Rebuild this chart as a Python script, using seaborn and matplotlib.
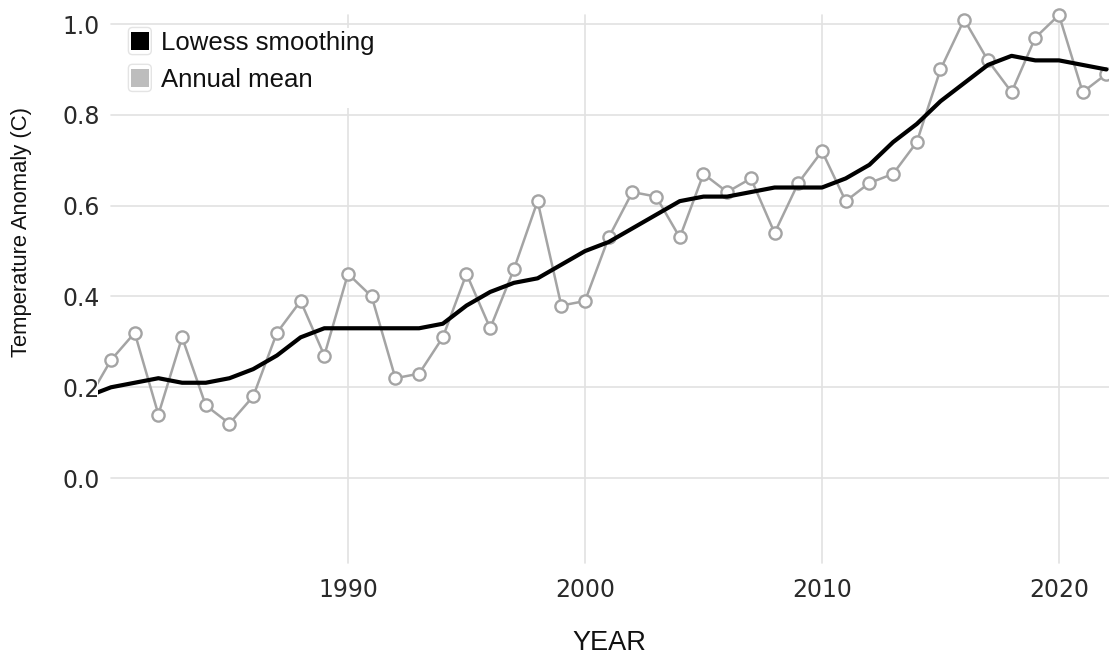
import matplotlib
matplotlib.use("Agg")
import matplotlib.pyplot as plt
import seaborn as sns
import pandas as pd
from matplotlib.patches import Rectangle, FancyBboxPatch
from matplotlib.legend_handler import HandlerBase
from matplotlib.transforms import Bbox, TransformedBbox

# ---- data ----
years = list(range(1979, 2023))
annual_mean = [0.17, 0.26, 0.32, 0.14, 0.31, 0.16, 0.12, 0.18, 0.32, 0.39, 0.27,
               0.45, 0.40, 0.22, 0.23, 0.31, 0.45, 0.33, 0.46, 0.61, 0.38,
               0.39, 0.53, 0.63, 0.62, 0.53, 0.67, 0.63, 0.66, 0.54, 0.65,
               0.72, 0.61, 0.65, 0.67, 0.74, 0.90, 1.01, 0.92, 0.85, 0.97,
               1.02, 0.85, 0.89]
lowess = [0.18, 0.20, 0.21, 0.22, 0.21, 0.21, 0.22, 0.24, 0.27, 0.31, 0.33,
          0.33, 0.33, 0.33, 0.33, 0.34, 0.38, 0.41, 0.43, 0.44, 0.47,
          0.50, 0.52, 0.55, 0.58, 0.61, 0.62, 0.62, 0.63, 0.64, 0.64,
          0.64, 0.66, 0.69, 0.74, 0.78, 0.83, 0.87, 0.91, 0.93, 0.92,
          0.92, 0.91, 0.90]
series_labels = ["Lowess smoothing", "Annual mean"]
x_ticks = [1990, 2000, 2010, 2020]
y_ticks = [0.0, 0.2, 0.4, 0.6, 0.8, 1.0]

df = pd.DataFrame({"YEAR": years, "annual": annual_mean, "lowess": lowess})

sns.set_style("white")
plt.rcParams["font.family"] = ["DejaVu Sans"]

W, H = 1109, 656
fig = plt.figure(figsize=(W / 100, H / 100), dpi=100)
ax = fig.add_axes([111 / W, 1 - 563 / H, (W - 111) / W, 563 / H])

GREY = "#a4a4a4"
GRID = "#e2e2e2"

xmin, xmax = 1980.0, 2022.11
ymin, ymax = -0.187, 1.053

# grid
for yt in y_ticks:
    ax.plot([xmin, xmax], [yt, yt], color=GRID, lw=1.2, zorder=0, clip_on=False)
for xt in x_ticks:
    ax.plot([xt, xt], [ymin, 1.02], color=GRID, lw=1.2, zorder=0, clip_on=False)

# white legend background covering the grid behind it
ax.add_patch(Rectangle((127 / W, 1 - 108 / H), (382 - 127) / W, (108 - 28) / H,
                       transform=fig.transFigure, facecolor="white",
                       edgecolor="none", zorder=1, clip_on=False))

sns.lineplot(data=df, x="YEAR", y="annual", ax=ax, color=GREY, lw=1.8,
             marker="o", markersize=8.8, markerfacecolor="white",
             markeredgecolor=GREY, markeredgewidth=1.7, zorder=2)
sns.lineplot(data=df, x="YEAR", y="lowess", ax=ax, color="black", lw=3.0, zorder=3)

ax.set_xlim(xmin, xmax)
ax.set_ylim(ymin, ymax)

clip = TransformedBbox(Bbox([[1979.45, ymin], [xmax + 1, ymax + 0.2]]), ax.transData)
for ln in ax.lines[-2:]:
    ln.set_clip_box(clip)

for s in ax.spines.values():
    s.set_visible(False)

ax.set_xticks(x_ticks)
ax.set_yticks(y_ticks)
ax.set_xticklabels([str(v) for v in x_ticks])
ax.set_yticklabels([f"{v:.1f}" for v in y_ticks])
ax.tick_params(axis="both", length=0, labelsize=17, labelcolor="#2a2a2a")
ax.tick_params(axis="x", pad=11)
ax.tick_params(axis="y", pad=8)

ax.set_xlabel("YEAR", fontsize=19.5, family="Liberation Sans", color="#111111")
ax.set_ylabel("Temperature Anomaly (C)", fontsize=15.8, family="Liberation Sans",
              color="#111111")
ax.xaxis.set_label_coords((609 - 111) / (W - 111), (563 - 643) / 563,
                          transform=ax.transAxes)
ax.yaxis.set_label_coords((22 - 111) / (W - 111), (563 - 232) / 563,
                          transform=ax.transAxes)
ax.xaxis.label.set_va("center")
ax.yaxis.label.set_va("center")


class BoxedSquare(HandlerBase):
    def __init__(self, color):
        super().__init__()
        self.color = color

    def create_artists(self, legend, orig_handle, xdescent, ydescent, width,
                       height, fontsize, trans):
        outer = FancyBboxPatch((-xdescent + 1, -ydescent - 3), width - 2, height + 6,
                               boxstyle="round,pad=0,rounding_size=3",
                               facecolor="white", edgecolor="#e4e4e4", lw=1.0,
                               transform=trans)
        s = 13.0
        cx = -xdescent + width / 2
        cy = -ydescent + height / 2
        inner = Rectangle((cx - s / 2, cy - s / 2), s, s, facecolor=self.color,
                          edgecolor="none", transform=trans)
        return [outer, inner]


h1 = Rectangle((0, 0), 1, 1, color="black")
h2 = Rectangle((0, 0), 1, 1, color="#bdbdbd")
leg = fig.legend([h1, h2], series_labels, loc="upper left",
                 bbox_to_anchor=(127 / W, 1 - 31 / H), bbox_transform=fig.transFigure,
                 frameon=False, borderpad=0, borderaxespad=0,
                 handlelength=1.0, handleheight=0.75, handletextpad=0.32,
                 labelspacing=0.5,
                 prop={"family": "Liberation Sans", "size": 18.5},
                 handler_map={h1: BoxedSquare("black"), h2: BoxedSquare("#bdbdbd")})
for t in leg.get_texts():
    t.set_color("#111111")

fig.savefig("out.png", dpi=100)
